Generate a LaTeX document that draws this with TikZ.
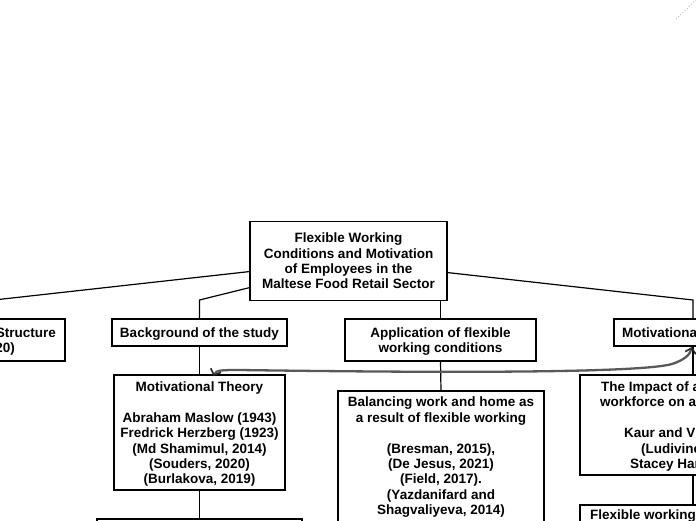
\documentclass[tikz,border=0pt]{standalone}
\usepackage{fontspec}
\setmainfont{Liberation Sans}
\usetikzlibrary{arrows.meta,calc}
\newcommand\boxfont{\bfseries\fontsize{13.5}{15.4}\selectfont}
\newcommand\topstrut{\rule{0pt}{13pt}}
\begin{document}
\begin{tikzpicture}[x=1pt,y=-1pt,
  box/.style={draw, line width=1.2pt, inner sep=0pt, outer sep=0pt, align=center, font=\boxfont},
  txt/.style={font=\boxfont, inner sep=0pt},
  link/.style={line width=1.2pt},
  curvelink/.style={line width=2.3pt, draw=black!65,
    {Straight Barb[length=5pt,width=11pt,line width=1.6pt,color=black!85]}-{Straight Barb[length=5pt,width=11pt,line width=1.6pt,color=black!85]}}]
\useasboundingbox (0,0) rectangle (696,520);
\begin{scope}
\clip (0,0) rectangle (696,520);
% root
\node[box, minimum width=197, minimum height=79] (root) at (348.5,261)
  {Flexible Working\\Conditions and Motivation\\of Employees in the\\Maltese Food Retail Sector};
% left cut box
\node[box, minimum width=160, minimum height=42] (left) at (-15,340) {};
\node[txt, anchor=base east] (lefta) at (56,337) {Structure};
\node[txt, anchor=base east] (leftb) at (15,352) {20)};
% second row
\node[box, minimum width=175, minimum height=27] (bg) at (199.5,332.5) {\topstrut Background of the study};
\node[box, minimum width=191, minimum height=42] (app) at (440.5,340) {\topstrut Application of flexible\\working conditions};
\node[box, minimum width=158, minimum height=27] (mot) at (693,332.5) {};
\node[txt, anchor=base west] (mottext) at (622,337.5) {Motivational};
% third row
\node[box, minimum width=171, minimum height=115] (mt) at (199.5,432.5)
  {\topstrut Motivational Theory\\[15.4pt]Abraham Maslow (1943)\\Fredrick Herzberg (1923)\\(Md Shamimul, 2014)\\(Souders, 2020)\\(Burlakova, 2019)};
\node[box, minimum width=205, minimum height=60, anchor=north] (mtchild) at (199.5,519) {};
\node[box, minimum width=206, minimum height=160, anchor=north] (bal) at (441,391) {};
\node[txt, anchor=north, align=center] (baltext) at ($(bal.north)+(0,6)$)
  {Balancing work and home as\\a result of flexible working\\[15.4pt](Bresman, 2015),\\(De Jesus, 2021)\\(Field, 2017).\\(Yazdanifard and\\Shagvaliyeva, 2014)};
\node[box, minimum width=226, minimum height=100, anchor=north west] (imp) at (580,375) {};
\node[txt, anchor=base west] (impa) at (601,391) {The Impact of a};
\node[txt, anchor=base west] (impb) at (600,406) {workforce on a};
\node[txt, anchor=base west] (impc) at (624,437) {Kaur and V};
\node[txt, anchor=base west] (impd) at (641,453) {(Ludivine};
\node[txt, anchor=base west] (impe) at (630,468) {Stacey Har};
\node[box, minimum width=226, minimum height=60, anchor=north west] (flex) at (580,505) {};
\node[txt, anchor=base west] (flextext) at (590,519) {Flexible working};
% connectors
\coordinate (jl) at (-15,301);
\coordinate (jb) at (199.5,300);
\coordinate (jr) at (693,300);
\draw[link] ($(root.west)+(0,10.5)$) -- (jl) -- (left.north);
\draw[link] ($(root.west)+(0,26.5)$) -- (jb) -- (bg.north);
\draw[link] (app.north |- root.south) -- (app.north);
\draw[link] ($(root.east)+(0,11.5)$) -- (jr) -- (mot.north);
\draw[link] (bg.south) -- (mt.north);
\draw[link] (mt.south) -- (mtchild.north);
\draw[link] (app.south) -- (bal.north);
\draw[link] (mot.south) -- (imp.north);
\draw[link] (imp.south) -- (flex.north);
\coordinate (cl) at ($(mt.north)+(14,1)$);
\coordinate (cr) at ($(mot.south)+(-1,1)$);
\draw[curvelink] (cl) .. controls (216,370) and (222,370) .. (240,370)
  .. controls (450,373) and (640,373) .. (672,364)
  .. controls (684,360) and (690,355) .. (cr);
% faint dotted line top right
\draw[gray!45, dotted, line width=1pt] (676,19) -- (696,0);
\end{scope}
\end{tikzpicture}
\end{document}
